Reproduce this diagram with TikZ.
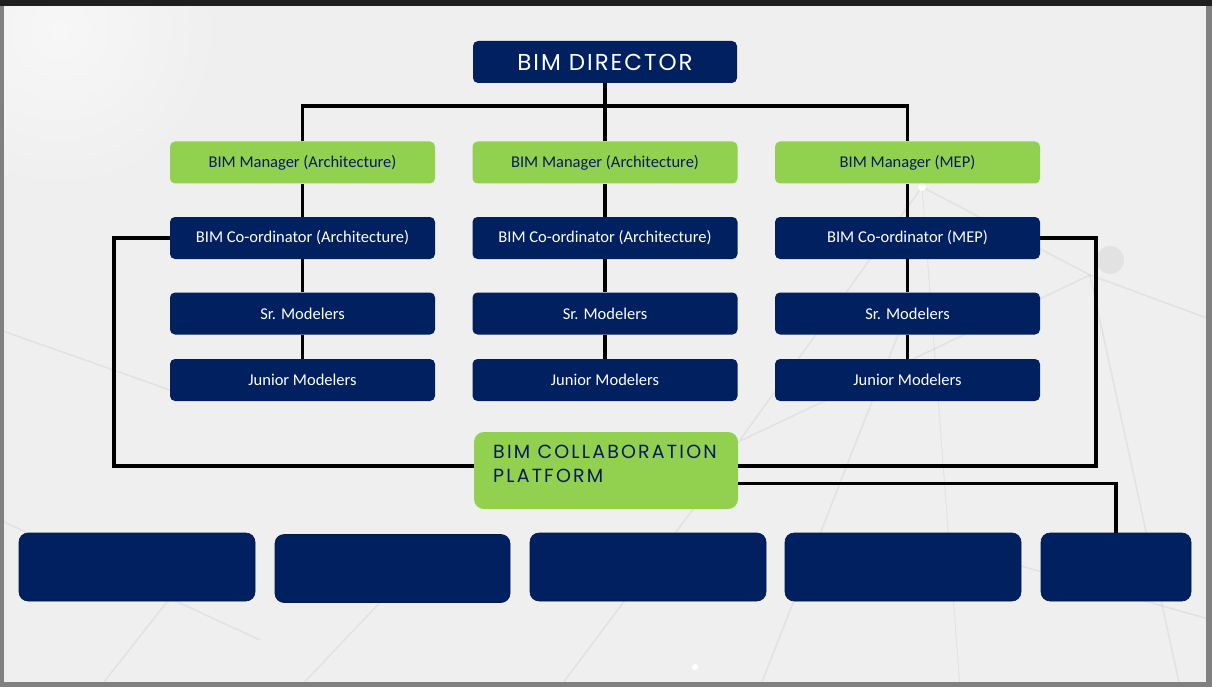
\documentclass[tikz,border=0pt]{standalone}
\usepackage{fontspec}
\setmainfont{Carlito}
\newfontfamily\headfont[LetterSpace=8.5]{Poppins}
\newfontfamily\colfont[LetterSpace=11.5]{Poppins}
\usetikzlibrary{positioning}
\definecolor{navy}{HTML}{002060}
\definecolor{lgreen}{HTML}{92D050}
\definecolor{bgc}{HTML}{EFEFEF}
\definecolor{txtnavy}{HTML}{0B1A5E}
\tikzset{
  bx/.style={rounded corners=5pt, minimum width=265pt, minimum height=42pt, inner sep=0pt, anchor=center},
  navybox/.style={bx, fill=navy, text=white, font=\fontsize{16.5}{18}\selectfont},
  greenbox/.style={bx, fill=lgreen, text=txtnavy, font=\fontsize{16.5}{18}\selectfont},
  blankbox/.style={rounded corners=9pt, fill=navy, draw=navy!80!black, line width=0.6pt, minimum height=68pt, inner sep=0pt},
  conn/.style={draw=black, line width=3.6pt, line join=miter},
  faint/.style={draw=black, opacity=0.05, line width=1.6pt},
}
\begin{document}
\begin{tikzpicture}[x=1pt,y=-1pt]
\useasboundingbox (0,0) rectangle (1212,687);
\clip (0,0) rectangle (1212,687);
% background
\fill[bgc] (0,0) rectangle (1212,687);
\shade[inner color=white!50!bgc, outer color=bgc] (60,30) circle (160);
% faint network texture
\draw[faint] (922,187) -- (1090,275);
\draw[faint] (922,187) -- (740,440);
\draw[faint, line width=1pt] (922,187) -- (960,687);
\draw[faint] (1090,275) -- (1212,320);
\draw[faint] (1090,275) -- (1180,687);
\draw[faint] (1090,275) -- (700,460);
\draw[faint] (760,687) -- (900,330);
\draw[faint] (0,520) -- (260,640);
\draw[faint] (100,687) -- (200,560);
\draw[faint] (300,687) -- (420,560);
\draw[faint] (560,687) -- (700,500);
\draw[faint] (1000,560) -- (1212,620);
\draw[faint] (0,330) -- (170,390);
\fill[black, opacity=0.05] (1110,260) circle (14);
\fill[white] (922,187) circle (4);
\fill[white] (695,667) circle (3);
% frame
\fill[black!88] (0,0) rectangle (1212,6);
\fill[black!50] (0,6) rectangle (4,687);
\fill[black!50] (1206,6) rectangle (1212,687);
\fill[black!50] (0,682) rectangle (1212,687);

% nodes
\node[bx, fill=navy, text=white, minimum width=264pt, font=\headfont\fontsize{23}{26}\selectfont] (dir) at (605,62) {BIM DIRECTOR};

\node[greenbox] (m1) at (302.5,162.5) {BIM Manager (Architecture)};
\node[greenbox] (m2) at (605,162.5) {BIM Manager (Architecture)};
\node[greenbox] (m3) at (907.5,162.5) {BIM Manager (MEP)};

\node[navybox] (c1) at (302.5,238) {BIM Co-ordinator (Architecture)};
\node[navybox] (c2) at (605,238) {BIM Co-ordinator (Architecture)};
\node[navybox] (c3) at (907.5,238) {BIM Co-ordinator (MEP)};

\node[navybox] (s1) at (302.5,313.5) {Sr. Modelers};
\node[navybox] (s2) at (605,313.5) {Sr. Modelers};
\node[navybox] (s3) at (907.5,313.5) {Sr. Modelers};

\node[navybox] (j1) at (302.5,380) {Junior Modelers};
\node[navybox] (j2) at (605,380) {Junior Modelers};
\node[navybox] (j3) at (907.5,380) {Junior Modelers};

\node[rounded corners=10pt, fill=lgreen, minimum width=264pt, minimum height=77pt, inner sep=0pt] (col) at (606,470.5) {};
\node[anchor=north west, inner sep=0pt, text=txtnavy, font=\colfont\fontsize{19}{24}\selectfont, align=left] (colt) at (493,445) {BIM COLLABORATION\\PLATFORM};

\node[blankbox, minimum width=236pt] (b1) at (137,567) {};
\node[blankbox, minimum width=235pt] (b2) at (392.5,568.5) {};
\node[blankbox, minimum width=236pt] (b3) at (648,567) {};
\node[blankbox, minimum width=236pt] (b4) at (903,567) {};
\node[blankbox, minimum width=150pt] (b5) at (1116,567) {};

% connectors
\coordinate (hb) at (605,106);
\draw[conn] (dir.south) -- (hb);
\draw[conn] (m1.north) |- (hb) -| (m3.north);
\draw[conn] (hb) -- (m2.north);
\foreach \a/\b in {m1/c1,m2/c2,m3/c3,c1/s1,c2/s2,c3/s3,s1/j1,s2/j2,s3/j3}{
  \draw[conn] (\a.south) -- (\b.north);
}
\draw[conn] (c1.west) -- ++(-56,0) |- ([yshift=4.5pt]col.west);
\draw[conn] (c3.east) -- ++(56,0) |- ([yshift=4.5pt]col.east);
\draw[conn] ([yshift=-13pt]col.east) -| (b5.north);
\end{tikzpicture}
\end{document}
